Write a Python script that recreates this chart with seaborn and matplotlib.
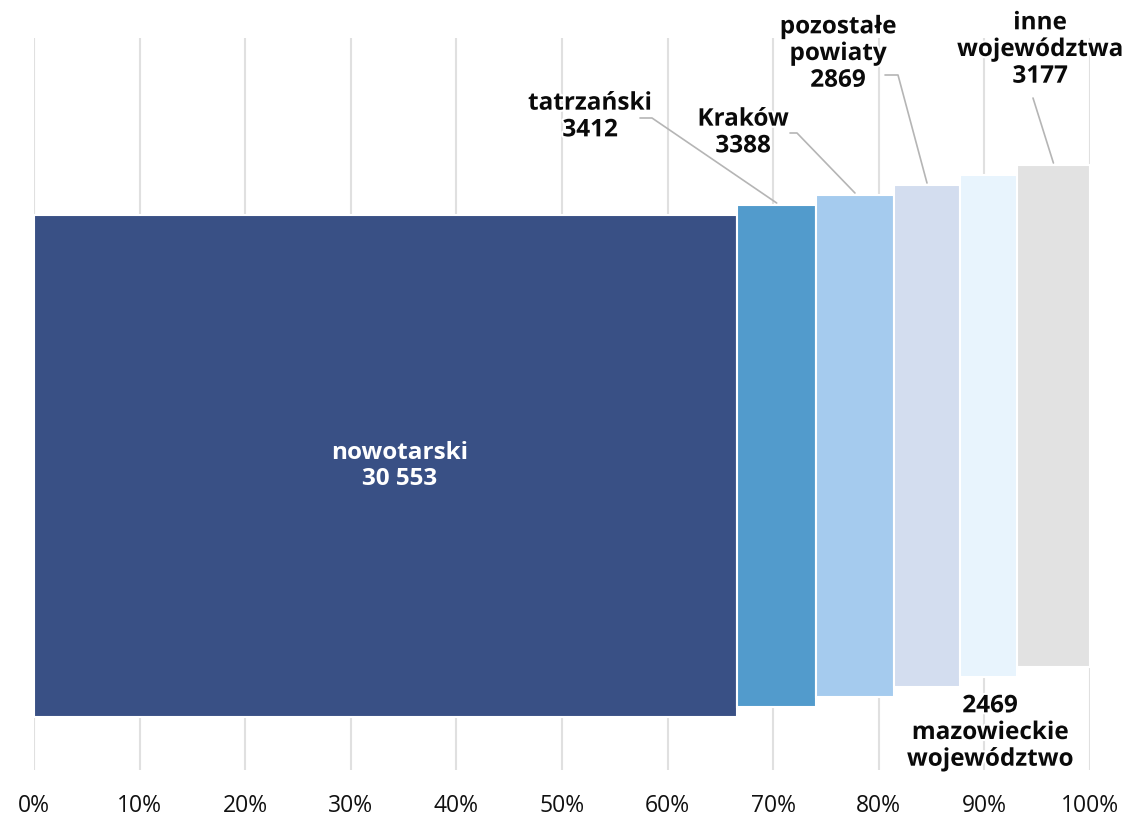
import numpy as np
import matplotlib.pyplot as plt
import matplotlib.patheffects as pe
import seaborn as sns

# data
regions = ["nowotarski", "tatrzański", "Kraków", "pozostałe\npowiaty",
           "mazowieckie\nwojewództwo", "inne\nwojewództwa"]
counts = [30553, 3412, 3388, 2869, 2469, 3177]
colors = ["#395085", "#529bcc", "#a5cbee", "#d3ddef", "#e8f4fd", "#e2e2e2"]
tick_labels = ["0%", "10%", "20%", "30%", "40%", "50%", "60%", "70%", "80%", "90%", "100%"]

sns.set_theme(style="white")
plt.rcParams["font.family"] = ["Open Sans", "DejaVu Sans"]

W, H = 1133, 822
fig = plt.figure(figsize=(W / 100, H / 100), dpi=100)
# axes spans x 0..100 % horizontally, y in pixel units (0 = bottom of grid)
ax = fig.add_axes([34 / W, 52 / H, 1056 / W, 732 / H])
ax.set_xlim(0, 100)
ax.set_ylim(0, 732)

counts = np.array(counts)
share = counts / counts.sum() * 100
left = np.concatenate([[0], np.cumsum(share)[:-1]])
centers = left + share / 2

bar_h = 502
base = 53
step = 10
bottoms = base + step * np.arange(len(counts))

ax.bar(left, [bar_h] * len(counts), width=share, bottom=bottoms, align="edge",
       color=colors, edgecolor="white", linewidth=1.5, zorder=3)

ax.set_xticks(np.arange(0, 101, 10))
ax.set_xticklabels(tick_labels, fontsize=16.5, color="#111111")
ax.set_yticks([])
ax.tick_params(axis="x", length=0, pad=17)
ax.grid(axis="x", color="#e0e0e0", linewidth=1.5, zorder=0)
sns.despine(left=True, bottom=True)


def fmt(v):
    return f"{v:,}".replace(",", " ") if v >= 10000 else str(v)


halo = [pe.withStroke(linewidth=3, foreground="white")]
txt = dict(fontsize=17.5, fontweight="bold", ha="center", va="center",
           multialignment="center", color="#0a0a0a", zorder=5, linespacing=1.15)


def px_x(p):
    return (p - 34) / 1056 * 100


def px_y(p):
    return 770 - p


# big bar label inside
ax.text(centers[0] + 1.3, bottoms[0] + bar_h / 2, f"{regions[0]}\n{fmt(counts[0])}",
        **{**txt, "color": "white"})

# outside labels with leader lines: (text x px, text y px, leader start x px, start y px, elbow x px)
label_pos = {
    1: (590, 117, 640, 118, 652),
    2: (743, 133, 790, 133, 797),
    3: (838, 54, 885, 75, 898),
    5: (1040, 50, 1033, 98, None),
}
for i, (tx, ty, sx, sy, ex) in label_pos.items():
    ax.text(px_x(tx), px_y(ty), f"{regions[i]}\n{fmt(counts[i])}",
            path_effects=halo, **txt)
    xs = [px_x(sx)]
    ys = [px_y(sy)]
    if ex is not None:
        xs.append(px_x(ex))
        ys.append(px_y(sy))
    xs.append(centers[i])
    ys.append(bottoms[i] + bar_h + 2)
    ax.plot(xs, ys, color="#b5b5b5", linewidth=1.2, zorder=4)

# mazowieckie label below its bar
ax.text(px_x(990), px_y(733), f"{fmt(counts[4])}\n{regions[4]}",
        path_effects=halo, **txt)

fig.savefig("out.png", dpi=100)
